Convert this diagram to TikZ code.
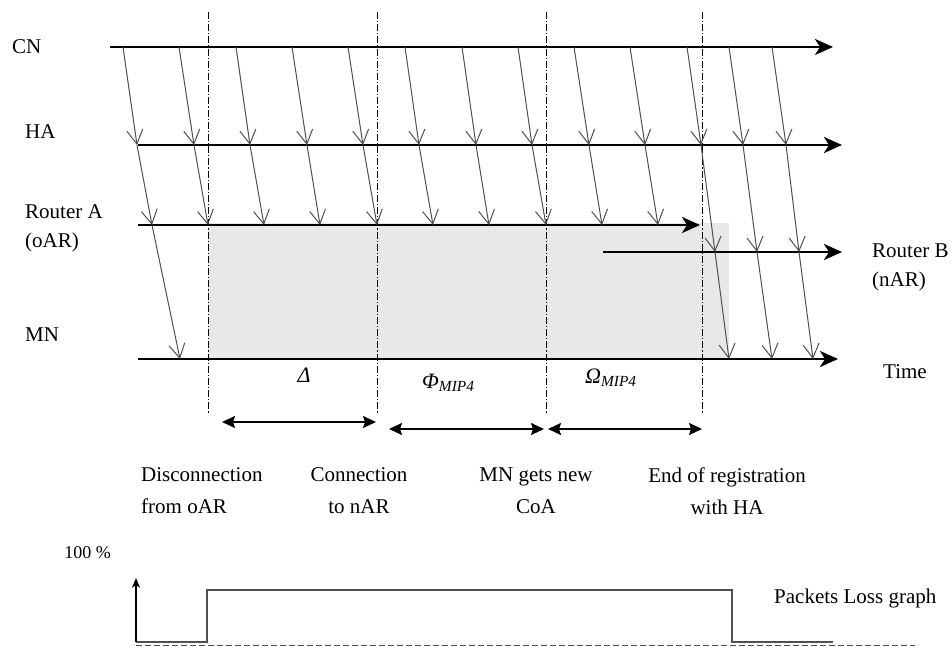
\documentclass[tikz,border=0pt]{standalone}
\usepackage{fontspec}
\setmainfont{Liberation Serif}
\usetikzlibrary{arrows.meta}
\definecolor{msggray}{HTML}{505050}
\definecolor{outagegray}{HTML}{E8E8E8}
\begin{document}
\begin{tikzpicture}[x=1pt,y=-1pt,
  lbl/.style={inner sep=0pt, font=\fontsize{21}{29}\selectfont},
  blbl/.style={inner sep=0pt, font=\fontsize{21}{32}\selectfont},
  msg/.style={draw=msggray, line width=1pt, -{Straight Barb[length=14pt,width=16pt]}},
  timeline/.style={line width=2.6pt, -{Stealth[length=18pt,width=16pt,inset=5pt]}},
  phase/.style={dash pattern=on 7pt off 2pt on 1.2pt off 2pt, line width=0.8pt},
  span/.style={line width=1.8pt, {Stealth[length=13pt,width=12pt,inset=2pt]}-{Stealth[length=13pt,width=12pt,inset=2pt]}},
  graphline/.style={draw=msggray, line width=1.2pt}
]
\useasboundingbox (0,0) rectangle (952,647);

% shaded outage region
\fill[outagegray] (208,223) rectangle (729,359);

% phase boundaries
\foreach \x/\n in {208/1,377/2,546/3,702/4}{
  \coordinate (pt\n) at (\x,12);
  \coordinate (pb\n) at (\x,413);
  \draw[phase] (pt\n) -- (pb\n);
}

% time lines
\coordinate (cnS) at (110,47);  \coordinate (cnE) at (833,47);
\coordinate (haS) at (138,145); \coordinate (haE) at (842,145);
\coordinate (raS) at (138,225); \coordinate (raE) at (700,225);
\coordinate (rbS) at (603,252); \coordinate (rbE) at (842,252);
\coordinate (mnS) at (138,359); \coordinate (mnE) at (838,359);
\draw[timeline] (cnS) -- (cnE);
\draw[timeline] (haS) -- (haE);
\draw[timeline] (raS) -- (raE);
\draw[timeline] (rbS) -- (rbE);
\draw[timeline] (mnS) -- (mnE);

% message points
\foreach \i/\c/\h in {1/123/137,2/179/194,3/236/250,4/292/307,5/348/363,6/405/419,7/462/476,8/518/532,9/574/589,10/630/645,11/687/701,12/729/743,13/772/786}{
  \coordinate (c\i) at (\c,47);
  \coordinate (h\i) at (\h,145);
  \draw[msg] (c\i) -- (h\i);
}
\foreach \i/\r in {1/152,2/208,3/264,4/320,5/377,6/433,7/489,8/546,9/602,10/658}{
  \coordinate (r\i) at (\r,225);
  \draw[msg] (h\i) -- (r\i);
}
\coordinate (m1) at (180,359);
\draw[msg] (r1) -- (m1);
\foreach \i/\b/\m in {11/715/729,12/757/772,13/799/813}{
  \coordinate (b\i) at (\b,252);
  \coordinate (m\i) at (\m,359);
  \draw[msg] (h\i) -- (b\i);
  \draw[msg] (b\i) -- (m\i);
}

% entity labels
\node[lbl, anchor=west] (lcn) at (12,47) {CN};
\node[lbl, anchor=west] (lha) at (25,132) {HA};
\node[lbl, anchor=west, align=left] (lra) at (25,228) {Router A\\(oAR)};
\node[lbl, anchor=west] (lmn) at (25,335) {MN};
\node[lbl, anchor=west, align=left] (lrb) at (872,267) {Router B\\(nAR)};
\node[lbl, anchor=west] (ltime) at (883,372) {Time};

% phase symbols
\node[lbl, font=\fontsize{22}{26}\selectfont\itshape] (ldelta) at (304,375) {Δ};
\node[lbl, anchor=west, font=\fontsize{22}{26}\selectfont\itshape] (lphi) at (422,383) {Φ\textsubscript{MIP4}};
\node[lbl, anchor=west, font=\fontsize{22}{26}\selectfont\itshape] (lomega) at (585,378) {Ω\textsubscript{MIP4}};

% phase spans
\coordinate (s1a) at (222,422); \coordinate (s1b) at (376,422);
\coordinate (s2a) at (389,429); \coordinate (s2b) at (544,429);
\coordinate (s3a) at (548,429); \coordinate (s3b) at (702,429);
\draw[span] (s1a) -- (s1b);
\draw[span] (s2a) -- (s2b);
\draw[span] (s3a) -- (s3b);

% event labels
\node[blbl, anchor=west, align=left] (e1) at (141,491) {Disconnection\\from oAR};
\node[blbl, align=center] (e2) at (359,491) {Connection\\to nAR};
\node[blbl, align=center] (e3) at (536,491) {MN gets new\\CoA};
\node[blbl, align=center] (e4) at (727,491) {End of registration\\with HA};

% packet loss graph
\node[lbl, anchor=east, font=\fontsize{18}{22}\selectfont] (l100) at (111,553) {100 \%};
\coordinate (g0) at (136,642);
\coordinate (gtop) at (136,578);
\coordinate (g1) at (207,642);
\coordinate (g2) at (207,590);
\coordinate (g3) at (732,590);
\coordinate (g4) at (732,642);
\coordinate (g5) at (833,642);
\coordinate (d0) at (136,645);
\coordinate (d1) at (915,645);
\draw[graphline, dash pattern=on 6pt off 3pt, line width=1pt] (d0) -- (d1);
\draw[graphline] (g0) -- (g1) -- (g2) -- (g3) -- (g4) -- (g5);
\draw[line width=1.2pt, -{Stealth[length=10pt,width=8pt]}] (g0) -- (gtop);
\node[lbl, anchor=west] (lpl) at (774,598) {Packets Loss graph};
\end{tikzpicture}
\end{document}
